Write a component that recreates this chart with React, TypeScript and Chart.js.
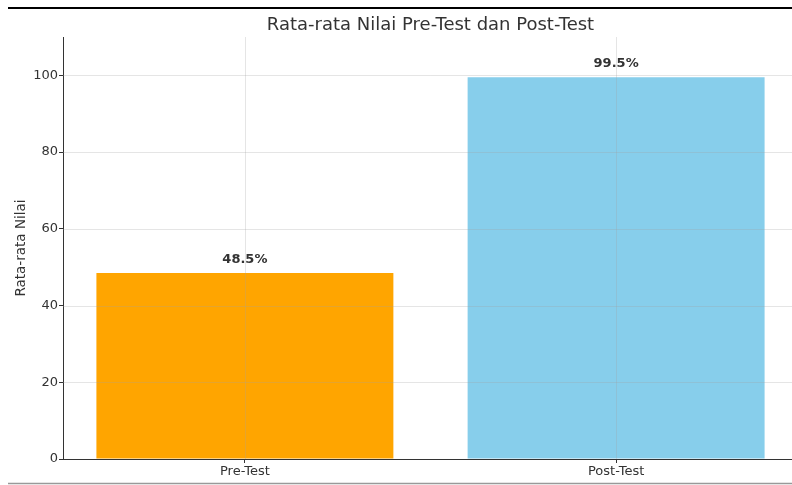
import React, { useEffect, useRef } from "react";
import { Chart, registerables } from "chart.js";
Chart.register(...registerables);

const categories = ["Pre-Test", "Post-Test"];
const values = [48.5, 99.5];
const valueLabels = ["48.5%", "99.5%"];
const barColors = ["#FFA500", "#87CEEB"];
const yTicks = [0, 20, 40, 60, 80, 100];
const titleText = "Rata-rata Nilai Pre-Test dan Post-Test";
const yTitle = "Rata-rata Nilai";

const FONT = "'DejaVu Sans', sans-serif";

export default function App() {
  const ref = useRef<HTMLCanvasElement | null>(null);
  useEffect(() => {
    const canvas = ref.current!;
    const overlay = {
      id: "overlay",
      afterDatasetsDraw(chart: any) {
        const ctx = chart.ctx;
        const { left, right, top, bottom } = chart.chartArea;
        const xs = chart.scales.x;
        const ys = chart.scales.y;
        ctx.save();
        // grid lines over bars
        ctx.strokeStyle = "rgba(160,160,160,0.28)";
        ctx.lineWidth = 1;
        yTicks.forEach((t) => {
          if (t === 0) return;
          const y = Math.round(ys.getPixelForValue(t)) + 0.5;
          ctx.beginPath();
          ctx.moveTo(left, y);
          ctx.lineTo(right, y);
          ctx.stroke();
        });
        categories.forEach((_, i) => {
          const x = Math.round(xs.getPixelForValue(i)) + 0.5;
          ctx.beginPath();
          ctx.moveTo(x, top);
          ctx.lineTo(x, bottom);
          ctx.stroke();
        });
        // value labels
        ctx.fillStyle = "#333";
        ctx.font = `bold 13px ${FONT}`;
        ctx.textAlign = "center";
        ctx.textBaseline = "alphabetic";
        values.forEach((v, i) => {
          const x = xs.getPixelForValue(i);
          const y = ys.getPixelForValue(v);
          ctx.fillText(valueLabels[i], x, y - 10);
        });
        // title
        ctx.fillStyle = "#333";
        ctx.font = `18px ${FONT}`;
        ctx.textBaseline = "middle";
        ctx.fillText(titleText, (left + right) / 2, 25);
        // y title
        ctx.save();
        ctx.translate(21.5, (top + bottom) / 2);
        ctx.rotate(-Math.PI / 2);
        ctx.font = `13.5px ${FONT}`;
        ctx.fillText(yTitle, 0, 0);
        ctx.restore();
        // page lines
        ctx.strokeStyle = "#000";
        ctx.lineWidth = 2;
        ctx.beginPath();
        ctx.moveTo(8, 8);
        ctx.lineTo(800, 8);
        ctx.stroke();
        ctx.strokeStyle = "#999";
        ctx.lineWidth = 1.5;
        ctx.beginPath();
        ctx.moveTo(8, 483.5);
        ctx.lineTo(800, 483.5);
        ctx.stroke();
        ctx.restore();
      },
    };
    const chart = new Chart(canvas, {
      type: "bar",
      data: {
        datasets: [
          {
            data: values.map((v, i) => ({ x: i, y: v })),
            backgroundColor: barColors,
            borderWidth: 0,
            barPercentage: 0.8,
            categoryPercentage: 1,
          },
        ],
      },
      options: {
        responsive: false,
        animation: false,
        layout: { padding: { top: 37, left: 0, right: 2, bottom: 0 } },
        plugins: { legend: { display: false }, tooltip: { enabled: false }, title: { display: false } },
        scales: {
          x: {
            type: "linear",
            offset: false,
            min: -0.49,
            max: 1.49,
            afterBuildTicks: (s: any) => {
              s.ticks = categories.map((_, i) => ({ value: i }));
            },
            afterFit: (s: any) => {
              s.height = 26;
            },
            ticks: {
              callback: (v: any) => categories[v] ?? "",
              autoSkip: false,
              maxRotation: 0,
              color: "#333",
              font: { family: FONT, size: 13 },
              padding: 1,
            },
            grid: { offset: false, drawOnChartArea: false, tickLength: 4, color: "#333" },
            border: { color: "#333", width: 1 },
          },
          y: {
            min: 0,
            max: 110,
            afterBuildTicks: (s: any) => {
              s.ticks = yTicks.map((v) => ({ value: v }));
            },
            afterFit: (s: any) => {
              s.width = 63;
            },
            ticks: {
              color: "#333",
              font: { family: FONT, size: 13 },
              padding: 1,
            },
            grid: { drawOnChartArea: false, tickLength: 4, color: "#333" },
            border: { color: "#333", width: 1 },
          },
        },
      },
      plugins: [overlay],
    });
    return () => chart.destroy();
  }, []);
  return (
    <div style={{ position: "absolute", left: 0, top: 0, width: 792, height: 485, overflow: "hidden", background: "#fff" }}>
      <canvas ref={ref} width={800} height={485} style={{ display: "block" }} />
    </div>
  );
}
